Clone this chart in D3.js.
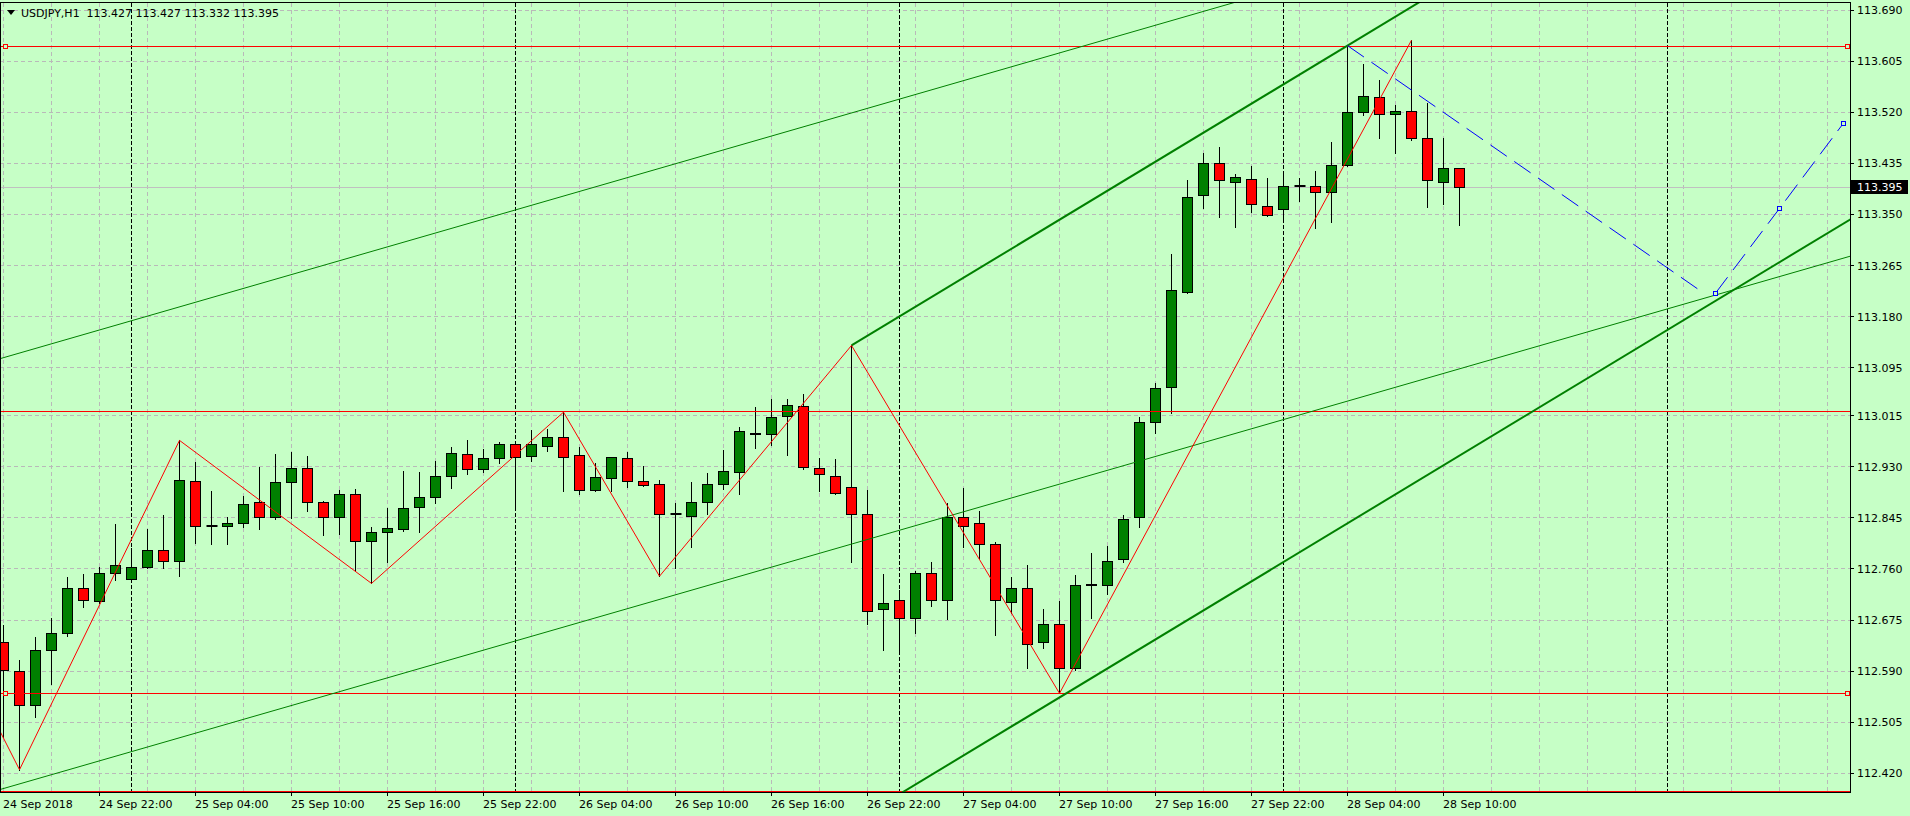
<!DOCTYPE html>
<html>
<head>
<meta charset="utf-8">
<script src="https://cdn.jsdelivr.net/npm/d3@7"></script>
<style>
  body { margin: 0; background: #c6ffc6; }
  svg { display: block; }
</style>
</head>
<body>
<svg id="chart"></svg>
<script>
// USDJPY H1 bars, bar 0 = 24 Sep 2018 16:00
var opens = [112.638,112.590,112.532,112.624,112.652,112.728,112.706,112.753,112.743,112.763,
             112.791,112.773,112.906,112.831,112.830,112.836,112.870,112.845,112.904,112.928,
             112.871,112.845,112.884,112.805,112.820,112.825,112.863,112.879,112.914,112.951,
             112.926,112.944,112.968,112.948,112.964,112.978,112.949,112.891,112.911,112.944,
             112.906,112.901,112.851,112.848,112.870,112.901,112.921,112.986,112.983,113.014,
             113.031,112.928,112.914,112.896,112.851,112.692,112.708,112.677,112.752,112.708,
             112.846,112.835,112.801,112.705,112.727,112.637,112.668,112.594,112.732,112.733,
             112.775,112.845,113.003,113.062,113.220,113.381,113.434,113.404,113.409,113.364,
             113.358,113.398,113.397,113.387,113.432,113.520,113.545,113.517,113.522,113.476,
             113.404,113.427];
var highs = [112.667,112.609,112.646,112.678,112.747,112.752,112.764,112.835,112.795,112.827,
             112.850,112.974,112.938,112.890,112.847,112.882,112.929,112.951,112.955,112.948,
             112.873,112.892,112.893,112.830,112.862,112.923,112.922,112.940,112.963,112.975,
             112.960,112.971,112.969,112.991,112.993,113.021,112.963,112.936,112.947,112.955,
             112.931,112.908,112.870,112.904,112.919,112.958,112.996,113.029,113.043,113.043,
             113.052,112.945,112.943,113.132,112.892,112.752,112.725,112.756,112.771,112.870,
             112.894,112.856,112.805,112.747,112.767,112.693,112.707,112.750,112.786,112.798,
             112.850,113.013,113.069,113.285,113.407,113.453,113.463,113.418,113.430,113.410,
             113.418,113.411,113.423,113.471,113.631,113.601,113.574,113.532,113.640,113.535,
             113.477,113.427];
var lows =  [112.481,112.426,112.514,112.569,112.648,112.696,112.704,112.742,112.741,112.761,
             112.762,112.749,112.804,112.801,112.802,112.830,112.826,112.843,112.845,112.856,
             112.816,112.819,112.757,112.736,112.771,112.824,112.822,112.869,112.894,112.918,
             112.922,112.937,112.860,112.939,112.957,112.890,112.885,112.889,112.889,112.897,
             112.898,112.748,112.762,112.797,112.851,112.893,112.884,112.962,112.967,112.950,
             112.927,112.890,112.885,112.772,112.668,112.626,112.619,112.653,112.698,112.677,
             112.797,112.778,112.650,112.687,112.595,112.629,112.553,112.592,112.679,112.718,
             112.771,112.830,112.986,113.019,113.219,113.360,113.345,113.329,113.354,113.347,
             113.338,113.372,113.327,113.337,113.431,113.515,113.477,113.452,113.474,113.362,
             113.367,113.332];
var closes = [112.591,112.532,112.624,112.652,112.727,112.708,112.753,112.765,112.763,112.791,
             112.773,112.908,112.831,112.831,112.836,112.868,112.845,112.904,112.928,112.871,
             112.845,112.884,112.805,112.820,112.828,112.861,112.879,112.914,112.953,112.926,
             112.944,112.968,112.946,112.968,112.978,112.946,112.891,112.913,112.946,112.906,
             112.899,112.851,112.851,112.871,112.901,112.923,112.988,112.983,113.012,113.032,
             112.929,112.918,112.886,112.851,112.689,112.702,112.677,112.752,112.708,112.846,
             112.831,112.801,112.707,112.727,112.635,112.668,112.594,112.732,112.735,112.773,
             112.843,113.003,113.060,113.224,113.379,113.434,113.407,113.411,113.366,113.349,
             113.396,113.398,113.387,113.432,113.520,113.547,113.517,113.522,113.476,113.406,
             113.427,113.395];

var bidPrice = 113.395;
var titleText = "USDJPY,H1  113.427 113.427 113.332 113.395";

// price scale labels as printed by the terminal
var yTickLabels = ["113.690","113.605","113.520","113.435","113.350","113.265","113.180","113.095",
                   "113.015","112.930","112.845","112.760","112.675","112.590","112.505","112.420"];
var xTickBars = [0, 6, 12, 18, 24, 30, 36, 42, 48, 54, 60, 66, 72, 78, 84, 90];
var xTickLabels = ["24 Sep 2018","24 Sep 22:00","25 Sep 04:00","25 Sep 10:00","25 Sep 16:00",
                   "25 Sep 22:00","26 Sep 04:00","26 Sep 10:00","26 Sep 16:00","26 Sep 22:00",
                   "27 Sep 04:00","27 Sep 10:00","27 Sep 16:00","27 Sep 22:00","28 Sep 04:00",
                   "28 Sep 10:00"];
var daySeparators = [8, 32, 56, 80, 104];

// chart objects
var levelPrices = [113.630, 113.022, 112.553, 112.390];
var markedLevels = [113.630, 112.553];
var zigzagBars = [-1, 1, 11, 23, 35, 41, 53, 66, 88];
var zigzagPrices = [112.531, 112.426, 112.974, 112.736, 113.021, 112.748, 113.132, 112.553, 113.640];
var thinBars = [-1, 116];
var thinLower = [112.387, 113.285];
var thinUpper = [113.104, 114.003];
var thickBars = [53, 84];
var thickUpper = [113.132, 113.631];
var thickLower = [112.337, 112.836];
var downBars = [84, 106];
var downPrices = [113.631, 113.224];
var projBars = [107, 111, 115];
var projPrices = [113.219, 113.360, 113.502];

var W = 1910, H = 816;
var plotR = 1850, plotB = 792, plotT = 3;
var bg = "#c6ffc6", bull = "#008000", bear = "#ff0000";

var svg = d3.select("#chart").attr("width", W).attr("height", H);
svg.append("rect").attr("width", W).attr("height", H).attr("fill", bg);

var x = d3.scaleLinear().domain([0, 115]).range([3.5, 3.5 + 115 * 16]);
var y = d3.scaleLinear().domain([112.420, 113.690]).range([773.3, 773.3 - 1.27 * 600.9]);

function px(v) { return Math.floor(v) + 0.5; }

svg.append("clipPath").attr("id", "plot")
  .append("rect").attr("x", 1).attr("y", plotT).attr("width", plotR - 1).attr("height", plotB - plotT);

var g = svg.append("g").attr("clip-path", "url(#plot)");

// grid
var gridBars = d3.range(0, 116, 3);
g.selectAll(".vgrid").data(gridBars).enter().append("line")
  .attr("x1", function(d) { return px(x(d)); })
  .attr("x2", function(d) { return px(x(d)); })
  .attr("y1", plotT).attr("y2", plotB)
  .attr("stroke", "#b9b9b9").attr("stroke-dasharray", "4,3");

g.selectAll(".hgrid").data(yTickLabels).enter().append("line")
  .attr("x1", 0).attr("x2", plotR)
  .attr("y1", function(d) { return px(y(+d)); })
  .attr("y2", function(d) { return px(y(+d)); })
  .attr("stroke", "#b9b9b9").attr("stroke-dasharray", "4,3");

// period separators
g.selectAll(".sep").data(daySeparators).enter().append("line")
  .attr("x1", function(d) { return px(x(d)); })
  .attr("x2", function(d) { return px(x(d)); })
  .attr("y1", plotT).attr("y2", plotB)
  .attr("stroke", "#000").attr("stroke-dasharray", "4,2");

// bid line
g.append("line")
  .attr("x1", 0).attr("x2", plotR)
  .attr("y1", px(y(bidPrice))).attr("y2", px(y(bidPrice)))
  .attr("stroke", "#c0c0c0");

// candles
var bars = d3.range(opens.length).map(function(i) {
  return {i: i, o: opens[i], h: highs[i], l: lows[i], c: closes[i]};
});

var candle = g.selectAll(".candle").data(bars).enter().append("g");

candle.append("line")
  .attr("x1", function(d) { return px(x(d.i)); })
  .attr("x2", function(d) { return px(x(d.i)); })
  .attr("y1", function(d) { return Math.round(y(d.h)); })
  .attr("y2", function(d) { return Math.round(y(d.l)) + 1; })
  .attr("stroke", "#000");

candle.filter(function(d) { return d.o !== d.c; }).append("rect")
  .attr("x", function(d) { return px(x(d.i)) - 5; })
  .attr("width", 10)
  .attr("y", function(d) { return px(y(Math.max(d.o, d.c))); })
  .attr("height", function(d) { return Math.max(1, px(y(Math.min(d.o, d.c))) - px(y(Math.max(d.o, d.c)))); })
  .attr("fill", function(d) { return d.c > d.o ? bull : bear; })
  .attr("stroke", "#000");

// doji: flat body
candle.filter(function(d) { return d.o === d.c; }).append("line")
  .attr("x1", function(d) { return px(x(d.i)) - 5; })
  .attr("x2", function(d) { return px(x(d.i)) + 6; })
  .attr("y1", function(d) { return Math.round(y(d.o)); })
  .attr("y2", function(d) { return Math.round(y(d.o)); })
  .attr("stroke", "#000").attr("stroke-width", 2);

// horizontal levels
g.selectAll(".level").data(levelPrices).enter().append("line")
  .attr("x1", 0).attr("x2", plotR)
  .attr("y1", function(d) { return px(y(d)); })
  .attr("y2", function(d) { return px(y(d)); })
  .attr("stroke", "#ff0000");

var line = d3.line()
  .x(function(d) { return x(d[0]); })
  .y(function(d) { return y(d[1]); });

function pairs(b, p) { return b.map(function(v, k) { return [v, p[k]]; }); }

// extend a line through two anchors out to bar e
function ray(b, p, e) {
  var s = (p[1] - p[0]) / (b[1] - b[0]);
  return [[b[0], p[0]], [e, p[0] + s * (e - b[0])]];
}

// thin channel
g.append("path").datum(pairs(thinBars, thinLower)).attr("d", line)
  .attr("fill", "none").attr("stroke", bull);
g.append("path").datum(pairs(thinBars, thinUpper)).attr("d", line)
  .attr("fill", "none").attr("stroke", bull);

// thick channel
g.append("path").datum(ray(thickBars, thickUpper, 120)).attr("d", line)
  .attr("fill", "none").attr("stroke", bull).attr("stroke-width", 2);
g.append("path").datum(ray(thickBars, thickLower, 120)).attr("d", line)
  .attr("fill", "none").attr("stroke", bull).attr("stroke-width", 2);

// zigzag
g.append("path").datum(pairs(zigzagBars, zigzagPrices)).attr("d", line)
  .attr("fill", "none").attr("stroke", "#ff0000");

// projection lines
g.append("path").datum(pairs(downBars, downPrices)).attr("d", line)
  .attr("fill", "none").attr("stroke", "#0000ff").attr("stroke-dasharray", "20,9");
g.append("path").datum(pairs(projBars, projPrices)).attr("d", line)
  .attr("fill", "none").attr("stroke", "#0000ff").attr("stroke-dasharray", "20,9");

g.selectAll(".pmark").data(pairs(projBars, projPrices)).enter().append("rect")
  .attr("x", function(d) { return px(x(d[0])) - 2; })
  .attr("y", function(d) { return px(y(d[1])) - 2; })
  .attr("width", 4).attr("height", 4)
  .attr("fill", bg).attr("stroke", "#0000ff");

// level anchor squares
markedLevels.forEach(function(v) {
  [5.5, 1847.5].forEach(function(sx) {
    g.append("rect")
      .attr("x", sx - 2).attr("y", px(y(v)) - 2)
      .attr("width", 4).attr("height", 4)
      .attr("fill", bg).attr("stroke", "#ff0000");
  });
});

// frame
svg.append("rect")
  .attr("x", 0.5).attr("y", 2.5)
  .attr("width", plotR).attr("height", plotB - 2)
  .attr("fill", "none").attr("stroke", "#000");

// price axis
var yAxis = svg.append("g");
yAxis.selectAll("line").data(yTickLabels).enter().append("line")
  .attr("x1", plotR).attr("x2", plotR + 4)
  .attr("y1", function(d) { return px(y(+d)); })
  .attr("y2", function(d) { return px(y(+d)); })
  .attr("stroke", "#000");
yAxis.selectAll("text").data(yTickLabels).enter().append("text")
  .attr("x", 1857)
  .attr("y", function(d) { return y(+d) + 4; })
  .attr("font-family", "DejaVu Sans")
  .attr("font-size", 11)
  .attr("fill", "#000")
  .text(function(d) { return d; });

// current price tag
svg.append("rect")
  .attr("x", 1851).attr("y", Math.round(y(bidPrice)) - 7)
  .attr("width", 57).attr("height", 14)
  .attr("fill", "#000");
svg.append("text")
  .attr("x", 1857).attr("y", y(bidPrice) + 4)
  .attr("font-family", "DejaVu Sans").attr("font-size", 11)
  .attr("fill", "#fff")
  .text(bidPrice.toFixed(3));

// time axis
var xAxis = svg.append("g");
xAxis.selectAll("line").data(xTickBars.slice(1)).enter().append("line")
  .attr("x1", function(d) { return px(x(d)); })
  .attr("x2", function(d) { return px(x(d)); })
  .attr("y1", plotB).attr("y2", plotB + 4)
  .attr("stroke", "#000");
xAxis.selectAll("text").data(xTickBars).enter().append("text")
  .attr("x", function(d) { return x(d) - 0.5; })
  .attr("y", 807.5)
  .attr("font-family", "DejaVu Sans")
  .attr("font-size", 11)
  .attr("fill", "#000")
  .text(function(d, k) { return xTickLabels[k]; });

// title
svg.append("path").attr("d", "M7,10L15,10L11,15Z").attr("fill", "#000");
svg.append("text")
  .attr("x", 21).attr("y", 17)
  .attr("font-family", "DejaVu Sans").attr("font-size", 11)
  .attr("fill", "#000")
  .style("white-space", "pre")
  .text(titleText);
</script>
</body>
</html>
